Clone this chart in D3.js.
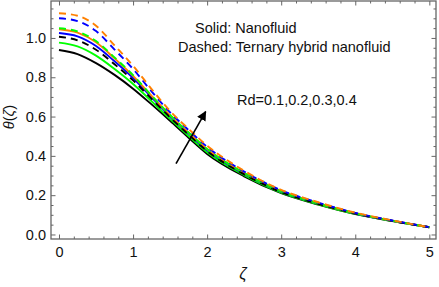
<!DOCTYPE html>
<html>
<head>
<meta charset="utf-8">
<script src="https://cdn.jsdelivr.net/npm/d3@7"></script>
<style>
  body { margin: 0; background: #fff; }
  svg { display: block; font-family: "Liberation Sans", Arial, sans-serif; }
</style>
</head>
<body>
<svg id="chart" width="439" height="287"></svg>
<script>
const width = 439;
const height = 287;
const plotLeft = 51, plotRight = 436, plotTop = 1, plotBottom = 239;

// sample points along zeta
const zeta = [0, 0.25, 0.5, 0.75, 1, 1.25, 1.5, 1.75, 2, 2.5, 3, 3.5, 4, 4.5, 5];

// Solid: nanofluid, Rd = 0.1 .. 0.4
const nfRd1 = [0.939, 0.918, 0.872, 0.812, 0.742, 0.662, 0.578, 0.492, 0.410, 0.296, 0.210, 0.152, 0.104, 0.068, 0.037];
const nfRd2 = [0.976, 0.957, 0.910, 0.842, 0.766, 0.678, 0.588, 0.501, 0.418, 0.302, 0.213, 0.154, 0.105, 0.069, 0.037];
const nfRd3 = [1.025, 1.008, 0.959, 0.881, 0.796, 0.698, 0.601, 0.513, 0.429, 0.309, 0.218, 0.158, 0.107, 0.070, 0.037];
const nfRd4 = [1.044, 1.027, 0.978, 0.896, 0.807, 0.705, 0.606, 0.517, 0.434, 0.312, 0.220, 0.159, 0.108, 0.070, 0.037];

// Dashed: ternary hybrid nanofluid, Rd = 0.1 .. 0.4
const thRd1 = [1.006, 0.988, 0.940, 0.866, 0.784, 0.690, 0.596, 0.508, 0.425, 0.306, 0.216, 0.156, 0.107, 0.069, 0.037];
const thRd2 = [1.049, 1.033, 0.984, 0.901, 0.811, 0.707, 0.608, 0.519, 0.435, 0.313, 0.220, 0.159, 0.108, 0.070, 0.037];
const thRd3 = [1.100, 1.086, 1.035, 0.941, 0.842, 0.728, 0.621, 0.531, 0.446, 0.320, 0.225, 0.162, 0.110, 0.071, 0.037];
const thRd4 = [1.126, 1.113, 1.062, 0.962, 0.858, 0.740, 0.628, 0.537, 0.452, 0.324, 0.227, 0.164, 0.111, 0.072, 0.037];

const series = [
  { values: nfRd1, color: "#000000", dash: null },
  { values: nfRd2, color: "#00ff00", dash: null },
  { values: nfRd3, color: "#0000ff", dash: null },
  { values: nfRd4, color: "#ff8000", dash: null },
  { values: thRd1, color: "#000000", dash: "7,5" },
  { values: thRd2, color: "#00ff00", dash: "7,5" },
  { values: thRd3, color: "#0000ff", dash: "7,5" },
  { values: thRd4, color: "#ff8000", dash: "7,5" }
];

const xTicks = [0, 1, 2, 3, 4, 5];
const yTicks = [0, 0.2, 0.4, 0.6, 0.8, 1.0];

// arrow for increasing Rd
const arrowFrom = [1.58, 0.361];
const arrowTo = [1.98, 0.625];

const xScale = d3.scaleLinear().domain([-0.108, 5.09]).range([plotLeft, plotRight]);
const yScale = d3.scaleLinear().domain([-0.023, 1.188]).range([plotBottom, plotTop]);

const svg = d3.select("#chart");

svg.append("defs").append("marker")
    .attr("id", "head")
    .attr("viewBox", "0 0 10 10")
    .attr("refX", 9).attr("refY", 5)
    .attr("markerWidth", 6).attr("markerHeight", 6)
    .attr("markerUnits", "strokeWidth")
    .attr("orient", "auto")
  .append("path")
    .attr("d", "M0,0 L10,5 L0,10 Z")
    .attr("fill", "#000");

// curves
const line = d3.line()
    .x((d, i) => xScale(zeta[i]))
    .y((d) => yScale(d))
    .curve(d3.curveMonotoneX);

svg.append("g")
  .selectAll("path")
  .data(series)
  .join("path")
    .attr("d", (s) => line(s.values))
    .attr("fill", "none")
    .attr("stroke", (s) => s.color)
    .attr("stroke-width", 1.9)
    .attr("stroke-dasharray", (s) => s.dash);

// axes: ticks point inward, mirrored on top and right
const xMinor = d3.range(0, 5.01, 0.2).filter((v) => Math.abs(v - Math.round(v)) > 0.01);
const yMinor = d3.range(0, 1.16, 0.05).filter((v) => Math.abs(v * 5 - Math.round(v * 5)) > 0.01);

function styleAxis(g) {
  g.select(".domain").remove();
  g.selectAll(".tick line").attr("stroke", "#666").attr("stroke-width", 1);
}

function styleLabels(g) {
  g.selectAll("text").attr("font-size", 14.5).attr("fill", "#111")
    .attr("font-family", "Liberation Sans, Arial, sans-serif");
}

svg.append("g").attr("transform", `translate(0,${plotBottom})`)
    .call(d3.axisBottom(xScale).tickValues(xTicks).tickSize(-4.5).tickPadding(8).tickFormat(d3.format("d")))
    .call(styleAxis).call(styleLabels);
svg.append("g").attr("transform", `translate(0,${plotBottom})`)
    .call(d3.axisBottom(xScale).tickValues(xMinor).tickSize(-2.5).tickFormat(""))
    .call(styleAxis);
svg.append("g").attr("transform", `translate(0,${plotTop})`)
    .call(d3.axisTop(xScale).tickValues(xTicks).tickSize(-4.5).tickFormat(""))
    .call(styleAxis);
svg.append("g").attr("transform", `translate(0,${plotTop})`)
    .call(d3.axisTop(xScale).tickValues(xMinor).tickSize(-2.5).tickFormat(""))
    .call(styleAxis);

svg.append("g").attr("transform", `translate(${plotLeft},0)`)
    .call(d3.axisLeft(yScale).tickValues(yTicks).tickSize(-4.5).tickPadding(5).tickFormat(d3.format(".1f")))
    .call(styleAxis).call(styleLabels);
svg.append("g").attr("transform", `translate(${plotLeft},0)`)
    .call(d3.axisLeft(yScale).tickValues(yMinor).tickSize(-2.5).tickFormat(""))
    .call(styleAxis);
svg.append("g").attr("transform", `translate(${plotRight},0)`)
    .call(d3.axisRight(yScale).tickValues(yTicks).tickSize(-4.5).tickFormat(""))
    .call(styleAxis);
svg.append("g").attr("transform", `translate(${plotRight},0)`)
    .call(d3.axisRight(yScale).tickValues(yMinor).tickSize(-2.5).tickFormat(""))
    .call(styleAxis);

// frame
svg.append("rect")
    .attr("x", plotLeft).attr("y", plotTop)
    .attr("width", plotRight - plotLeft).attr("height", plotBottom - plotTop)
    .attr("fill", "none").attr("stroke", "#666").attr("stroke-width", 1.3);

// arrow
svg.append("line")
    .attr("x1", xScale(arrowFrom[0])).attr("y1", yScale(arrowFrom[1]))
    .attr("x2", xScale(arrowTo[0])).attr("y2", yScale(arrowTo[1]))
    .attr("stroke", "#000").attr("stroke-width", 1.6)
    .attr("marker-end", "url(#head)");

// annotations
svg.append("text").attr("x", 195).attr("y", 33).attr("font-size", 14.5).attr("fill", "#111").text("Solid: Nanofluid");
svg.append("text").attr("x", 178).attr("y", 52).attr("font-size", 14.5).attr("fill", "#111").text("Dashed: Ternary hybrid nanofluid");
svg.append("text").attr("x", 237).attr("y", 105).attr("font-size", 14.5).attr("fill", "#111").text("Rd=0.1,0.2,0.3,0.4");

// axis titles
const yl = svg.append("text")
    .attr("transform", "translate(14,117) rotate(-90)")
    .attr("text-anchor", "middle")
    .attr("font-size", 14.5).attr("fill", "#111");
yl.append("tspan").attr("font-style", "italic").text("θ");
yl.append("tspan").text("(");
yl.append("tspan").attr("font-style", "italic").text("ζ");
yl.append("tspan").text(")");

svg.append("text")
    .attr("x", 243).attr("y", 279)
    .attr("text-anchor", "middle")
    .attr("font-size", 16).attr("font-style", "italic").attr("fill", "#111")
    .text("ζ");
</script>
</body>
</html>
